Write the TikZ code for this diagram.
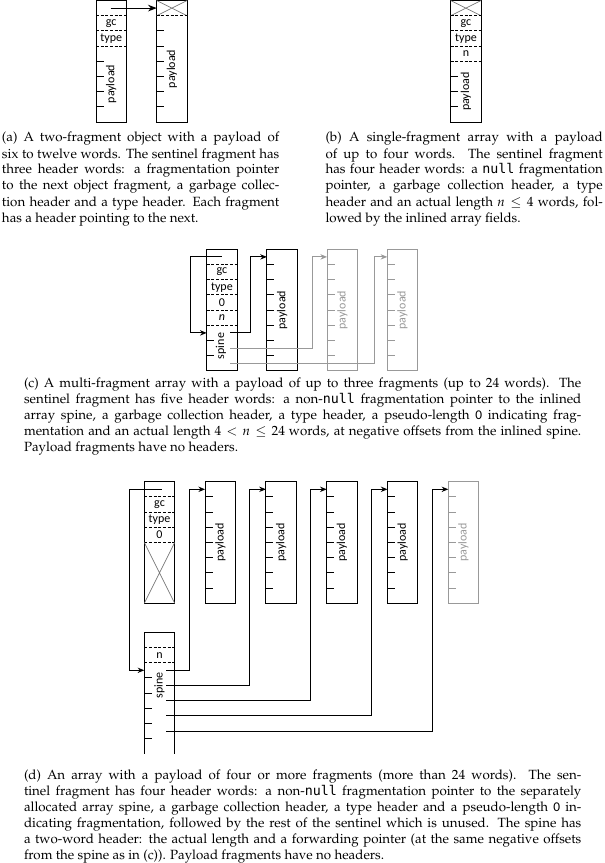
\documentclass[tikz,border=0pt]{standalone}
\usepackage[T1]{fontenc}
\usepackage{mathpazo}
\usepackage{fontspec}
\usetikzlibrary{arrows.meta,calc}
\newfontfamily\lab{Carlito}
\newfontfamily\monof{DejaVu Sans Mono}[Scale=1.0]
\newcommand\capf{\fontencoding{T1}\fontfamily{ppl}\fontseries{m}\fontshape{n}\fontsize{10}{12}\selectfont}
\newcommand\nul{{\monof null}}
\newcommand\zero{{\lab 0}}
\newcommand\jline[4]{\node[capnode] (#1) at (#2) {\makebox[#3][s]{#4}};}
\def\hh{15.2}
\def\ww{30.4}
\definecolor{ghostgray}{gray}{0.6}
\definecolor{crossgray}{gray}{0.45}
\tikzset{
 fragbox/.style={draw, line width=0.75pt, inner sep=0pt, outer sep=0pt, minimum width=22.8pt, minimum height=91.2pt, anchor=north west},
 ghost/.style={draw=ghostgray},
 sepline/.style={line width=0.75pt, dash pattern=on 2.3pt off 1.2pt},
 tick/.style={line width=0.75pt},
 cross/.style={line width=0.5pt, draw=crossgray},
 ptr/.style={line width=0.75pt, -{Stealth[length=5pt,width=4pt]}},
 bigptr/.style={line width=0.75pt, -{Stealth[length=6.5pt,width=5pt]}},
 lbl/.style={font=\lab\fontsize{9}{10}\selectfont, inner sep=0pt},
 vlbl/.style={lbl, rotate=90},
 ulbl/.style={lbl, rotate=90},
 capnode/.style={font=\capf, inner sep=0pt, outer sep=0pt, anchor=base west},
}
\begin{document}
\begin{tikzpicture}[x=0.75pt, y=-0.75pt]
\useasboundingbox (0,0) rectangle (605,863);

% ---------------- (a) ----------------
\node[fragbox] (A1) at (96,0.5) {};
\foreach \k in {1,2,3} \draw[sepline] (96,{0.5+\k*\hh}) -- ++(\ww,0);
\foreach \k in {4,...,7} \draw[tick] (96,{0.5+\k*\hh}) -- ++(7.5,0);
\node[lbl] (A1gc) at (111.2,{0.5+1.5*\hh}) {gc};
\node[lbl] (A1ty) at (111.2,{0.5+2.5*\hh}) {type};
\node[vlbl] (A1pl) at (111.2,{0.5+5.5*\hh}) {payload};

\node[fragbox] (A2) at (156.7,0.5) {};
\draw[cross] (156.7,0.5) -- (187.1,15.7) (156.7,15.7) -- (187.1,0.5);
\draw[sepline] (156.7,{0.5+\hh}) -- ++(\ww,0);
\foreach \k in {2,...,7} \draw[tick] (156.7,{0.5+\k*\hh}) -- ++(7.5,0);
\node[vlbl] (A2pl) at (171.9,{0.5+4.5*\hh}) {payload};

\coordinate (A1p) at (110.7,8.1);
\draw[bigptr] (A1p) -- (A2.west |- A1p);

% ---------------- (b) ----------------
\node[fragbox] (B1) at (450.7,0.5) {};
\draw[cross] (450.7,0.5) -- (481.1,15.7) (450.7,15.7) -- (481.1,0.5);
\foreach \k in {1,...,4} \draw[sepline] (450.7,{0.5+\k*\hh}) -- ++(\ww,0);
\foreach \k in {5,6,7} \draw[tick] (450.7,{0.5+\k*\hh}) -- ++(7.5,0);
\node[lbl] (B1gc) at (465.9,{0.5+1.5*\hh}) {gc};
\node[lbl] (B1ty) at (465.9,{0.5+2.5*\hh}) {type};
\node[lbl] (B1n) at (465.9,{0.5+3.5*\hh}) {n};
\node[vlbl] (B1pl) at (465.9,{0.5+6*\hh}) {payload};

% ---------------- (c) ----------------
\node[fragbox] (C0) at (206.7,249.3) {};
\foreach \k in {1,...,5} \draw[sepline] (206.7,{249.3+\k*\hh}) -- ++(\ww,0);
\foreach \k in {6,7} \draw[tick] (206.7,{249.3+\k*\hh}) -- ++(7.5,0);
\node[lbl] (C0gc) at (221.9,{249.3+1.5*\hh}) {gc};
\node[lbl] (C0ty) at (221.9,{249.3+2.5*\hh}) {type};
\node[lbl] (C0z) at (221.9,{249.3+3.5*\hh}) {0};
\node[lbl] (C0n) at (221.9,{249.3+4.5*\hh}) {\itshape n};
\node[ulbl] (C0sp) at (221,346) {spine};

\node[fragbox] (C1) at (266.9,249.3) {};
\foreach \k in {1,...,7} \draw[tick] (266.9,{249.3+\k*\hh}) -- ++(7.5,0);
\node[vlbl] (C1pl) at (282.1,{249.3+4*\hh}) {payload};

\node[fragbox,ghost] (C2) at (327.1,249.3) {};
\foreach \k in {1,...,7} \draw[tick,ghostgray] (327.1,{249.3+\k*\hh}) -- ++(7.5,0);
\node[vlbl,text=ghostgray] (C2pl) at (342.3,{249.3+4*\hh}) {payload};

\node[fragbox,ghost] (C3) at (387.3,249.3) {};
\foreach \k in {1,...,7} \draw[tick,ghostgray] (387.3,{249.3+\k*\hh}) -- ++(7.5,0);
\node[vlbl,text=ghostgray] (C3pl) at (402.5,{249.3+4*\hh}) {payload};

\coordinate (C0p) at (221.7,256.9);
\coordinate (C0s1) at (230,332.9);
\coordinate (C0s2) at (230,348.1);
\coordinate (C0s3) at (230,363.3);
\draw[ptr] (C0p) -| ($(C0.west |- C0s1)+(-16,0)$) -- (C0.west |- C0s1);
\draw[ptr] (C0s1) -| ($(C1.west |- C0p)+(-16.2,0)$) -- (C1.west |- C0p);
\draw[ptr,draw=ghostgray] (C0s2) -| ($(C2.west |- C0p)+(-14.8,0)$) -- (C2.west |- C0p);
\draw[ptr,draw=ghostgray] (C0s3) -| ($(C3.west |- C0p)+(-13.3,0)$) -- (C3.west |- C0p);

% ---------------- (d) ----------------
\node[fragbox] (D0) at (144.3,481.7) {};
\foreach \k in {1,...,4} \draw[sepline] (144.3,{481.7+\k*\hh}) -- ++(\ww,0);
\node[lbl] (D0gc) at (159.5,{481.7+1.5*\hh}) {gc};
\node[lbl] (D0ty) at (159.5,{481.7+2.5*\hh}) {type};
\node[lbl] (D0z) at (159.5,{481.7+3.5*\hh}) {0};
\draw[cross] (144.3,{481.7+4*\hh}) -- (174.7,{481.7+8*\hh}) (144.3,{481.7+8*\hh}) -- (174.7,{481.7+4*\hh});

\foreach \n/\xx/\st in {D1/205.1/black, D2/265.9/black, D3/326.7/black, D4/387.5/black, D5/448.3/ghostgray}{
  \node[fragbox,draw=\st] (\n) at (\xx,481.7) {};
  \foreach \k in {1,...,7} \draw[tick,\st] (\xx,{481.7+\k*\hh}) -- ++(7.5,0);
  \node[vlbl,text=\st] (\n pl) at ({\xx+15.2},{481.7+4*\hh}) {payload};
}

\node[fragbox,draw=none] (S) at (144.3,632.3) {};
\draw[tick] (S.south west) -- (S.north west) -- (S.north east) -- (S.south east);
\foreach \k in {1,2} \draw[sepline] (144.3,{632.3+\k*\hh}) -- ++(\ww,0);
\foreach \k in {3,...,7} \draw[tick] (144.3,{632.3+\k*\hh}) -- ++(7.5,0);
\node[lbl] (Sn) at (159.5,{632.3+1.5*\hh}) {n};
\node[ulbl] (Ssp) at (159.5,685.3) {spine};

\coordinate (D0p) at (161.7,489.3);
\foreach \k in {2,...,6} \coordinate (Sr\k) at (166,{632.3+(\k+0.5)*\hh});
\draw[ptr] (D0p) -| ($(S.west |- Sr2)+(-15,0)$) -- (S.west |- Sr2);
\draw[ptr] (Sr2) -| ($(D1.west |- D0p)+(-16,0)$) -- (D1.west |- D0p);
\draw[ptr] (Sr3) -| ($(D2.west |- D0p)+(-16,0)$) -- (D2.west |- D0p);
\draw[ptr] (Sr4) -| ($(D3.west |- D0p)+(-16,0)$) -- (D3.west |- D0p);
\draw[ptr] (Sr5) -| ($(D4.west |- D0p)+(-16,0)$) -- (D4.west |- D0p);
\draw[ptr] (Sr6) -| ($(D5.west |- D0p)+(-16,0)$) -- (D5.west |- D0p);

% ---------------- captions ----------------
\jline{ca1}{2,142}{208pt}{(a) A two-fragment object with a payload of}
\jline{ca2}{2,158}{208pt}{six to twelve words. The sentinel fragment has}
\jline{ca3}{2,174}{208pt}{three header words: a fragmentation pointer}
\jline{ca4}{2,190}{208pt}{to the next object fragment, a garbage collec-}
\jline{ca5}{2,206}{208pt}{tion header and a type header. Each fragment}
\node[capnode] (ca6) at (2,222) {has a header pointing to the next.};

\jline{cb1}{325.5,142}{208pt}{(b) A single-fragment array with a payload}
\jline{cb2}{325.5,158}{208pt}{of up to four words. The sentinel fragment}
\jline{cb3}{325.5,174}{208pt}{has four header words: a \nul{} fragmentation}
\jline{cb4}{325.5,190}{208pt}{pointer, a garbage collection header, a type}
\jline{cb5}{325.5,206}{208pt}{header and an actual length $n \le 4$ words, fol-}
\node[capnode] (cb6) at (325.5,222) {lowed by the inlined array fields.};

\jline{cc1}{24,387.5}{418pt}{(c) A multi-fragment array with a payload of up to three fragments (up to 24 words). The}
\jline{cc2}{24,403.5}{418pt}{sentinel fragment has five header words: a non-\nul{} fragmentation pointer to the inlined}
\jline{cc3}{24,419.5}{418pt}{array spine, a garbage collection header, a type header, a pseudo-length \zero{} indicating frag-}
\jline{cc4}{24,435.5}{418pt}{mentation and an actual length $4 < n \le 24$ words, at negative offsets from the inlined spine.}
\node[capnode] (cc5) at (24,451.5) {Payload fragments have no headers.};

\jline{cd1}{24,779.5}{418pt}{(d) An array with a payload of four or more fragments (more than 24 words). The sen-}
\jline{cd2}{24,795.5}{418pt}{tinel fragment has four header words: a non-\nul{} fragmentation pointer to the separately}
\jline{cd3}{24,811.5}{418pt}{allocated array spine, a garbage collection header, a type header and a pseudo-length \zero{} in-}
\jline{cd4}{24,827.5}{418pt}{dicating fragmentation, followed by the rest of the sentinel which is unused. The spine has}
\jline{cd5}{24,843.5}{418pt}{a two-word header: the actual length and a forwarding pointer (at the same negative offsets}
\node[capnode] (cd6) at (24,859.5) {from the spine as in (c)). Payload fragments have no headers.};
\end{tikzpicture}
\end{document}
